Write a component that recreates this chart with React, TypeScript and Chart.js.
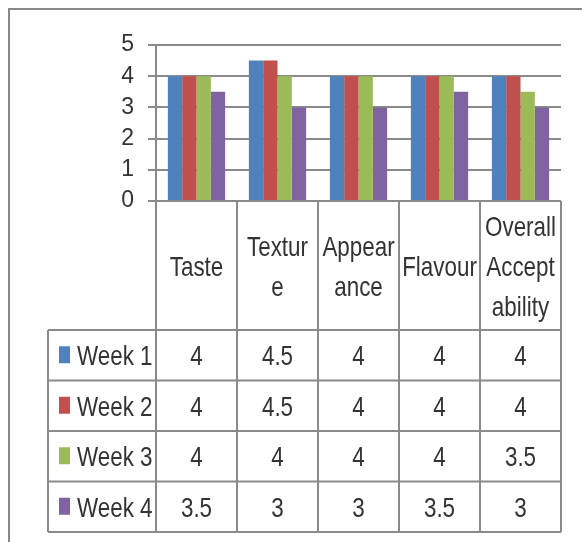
import React, { useEffect, useRef } from "react";
import { Chart, registerables } from "chart.js";

Chart.register(...registerables);

// ---- data ----
const categoryLines: string[][] = [
  ["Taste"],
  ["Textur", "e"],
  ["Appear", "ance"],
  ["Flavour"],
  ["Overall", "Accept", "ability"],
];
const seriesNames = ["Week 1", "Week 2", "Week 3", "Week 4"];
const week1 = [4, 4.5, 4, 4, 4];
const week2 = [4, 4.5, 4, 4, 4];
const week3 = [4, 4, 4, 4, 3.5];
const week4 = [3.5, 3, 3, 3.5, 3];
const yTicks = [0, 1, 2, 3, 4, 5];
const seriesColors = ["#4F81BD", "#C0504D", "#9BBB59", "#8064A2"];

// ---- style ----
const FONT = '"Liberation Sans", Arial, sans-serif';
const LINE = "#8a8a8a";
const TEXT = "#333333";
const NARROW = 0.8;

const tablePlugin = {
  id: "dataTable",
  afterDraw(chart: any) {
    const ctx: CanvasRenderingContext2D = chart.ctx;
    const xs = chart.scales.x;
    const area = chart.chartArea;
    const labels = chart.data.labels as string[][];
    const n = labels.length;
    const half = (xs.getPixelForValue(1) - xs.getPixelForValue(0)) / 2;
    const bounds: number[] = [];
    for (let i = 0; i <= n; i++) bounds.push(xs.getPixelForValue(0) - half + i * 2 * half);
    const top = area.bottom;
    const headerBottom = 330;
    const rowH = 50.5;
    const datasets = chart.data.datasets;
    const rows = datasets.length;
    const bottom = headerBottom + rows * rowH;
    const left = 48;

    ctx.save();
    ctx.strokeStyle = LINE;
    ctx.lineWidth = 2;
    const line = (x1: number, y1: number, x2: number, y2: number) => {
      ctx.beginPath();
      ctx.moveTo(x1, y1);
      ctx.lineTo(x2, y2);
      ctx.stroke();
    };
    bounds.forEach((bx) => line(bx, top, bx, bottom));
    line(left, headerBottom, left, bottom);
    for (let r = 0; r <= rows; r++) {
      const y = headerBottom + r * rowH;
      line(left, y, bounds[n], y);
    }

    const text = (t: string, x: number, y: number, align: CanvasTextAlign) => {
      ctx.save();
      ctx.translate(x, y);
      ctx.scale(NARROW, 1);
      ctx.textAlign = align;
      ctx.fillText(t, 0, 0);
      ctx.restore();
    };

    ctx.fillStyle = TEXT;
    ctx.font = `28px ${FONT}`;
    ctx.textBaseline = "alphabetic";
    const capOff = 10;
    const headerCenter = (top + headerBottom) / 2;
    labels.forEach((lines, i) => {
      const cx = xs.getPixelForValue(i);
      const m = lines.length;
      lines.forEach((t, k) => {
        const y = headerCenter + capOff + (k - (m - 1) / 2) * 40;
        text(t, cx, y, "center");
      });
    });

    datasets.forEach((ds: any, r: number) => {
      const cy = headerBottom + r * rowH + rowH / 2;
      ctx.fillStyle = ds.backgroundColor;
      ctx.fillRect(59, cy - 9, 11, 17);
      ctx.fillStyle = TEXT;
      text(ds.label, 77, cy + capOff, "left");
      (ds.data as number[]).forEach((v, i) => {
        text(String(v), xs.getPixelForValue(i), cy + capOff, "center");
      });
    });
    ctx.restore();
  },
};

export default function App() {
  const ref = useRef<HTMLCanvasElement>(null);
  useEffect(() => {
    if (!ref.current) return;
    const allSeries = [week1, week2, week3, week4];
    const chart = new Chart(ref.current, {
      type: "bar",
      data: {
        labels: categoryLines,
        datasets: allSeries.map((d, i) => ({
          label: seriesNames[i],
          data: d,
          backgroundColor: seriesColors[i],
          borderWidth: 0,
          categoryPercentage: 0.707,
          barPercentage: 1,
        })),
      },
      options: {
        responsive: false,
        animation: false,
        devicePixelRatio: 1,
        layout: { padding: { left: 0, right: 21, top: 45, bottom: 341 } },
        plugins: { legend: { display: false }, tooltip: { enabled: false } },
        scales: {
          x: { display: false },
          y: {
            min: 0,
            max: 5,
            afterBuildTicks: (s: any) => {
              s.ticks = yTicks.map((v) => ({ value: v }));
            },
            afterFit: (s: any) => {
              s.width = 156;
            },
            ticks: {
              color: TEXT,
              font: { family: FONT, size: 23 },
              padding: 14,
              autoSkip: false,
            },
            grid: { color: LINE, lineWidth: 2, tickLength: 8, drawTicks: true },
            border: { display: true, color: LINE, width: 2 },
          },
        },
      },
      plugins: [tablePlugin],
    });
    return () => chart.destroy();
  }, []);
  return (
    <div>
      <div
        style={{
          position: "absolute",
          left: 8,
          top: 8,
          width: 574,
          height: 534,
          boxSizing: "border-box",
          borderLeft: "2px solid #888",
          borderTop: "2px solid #888",
        }}
      />
      <canvas
        ref={ref}
        width={582}
        height={542}
        style={{ position: "absolute", left: 0, top: 0, width: 582, height: 542 }}
      />
    </div>
  );
}
